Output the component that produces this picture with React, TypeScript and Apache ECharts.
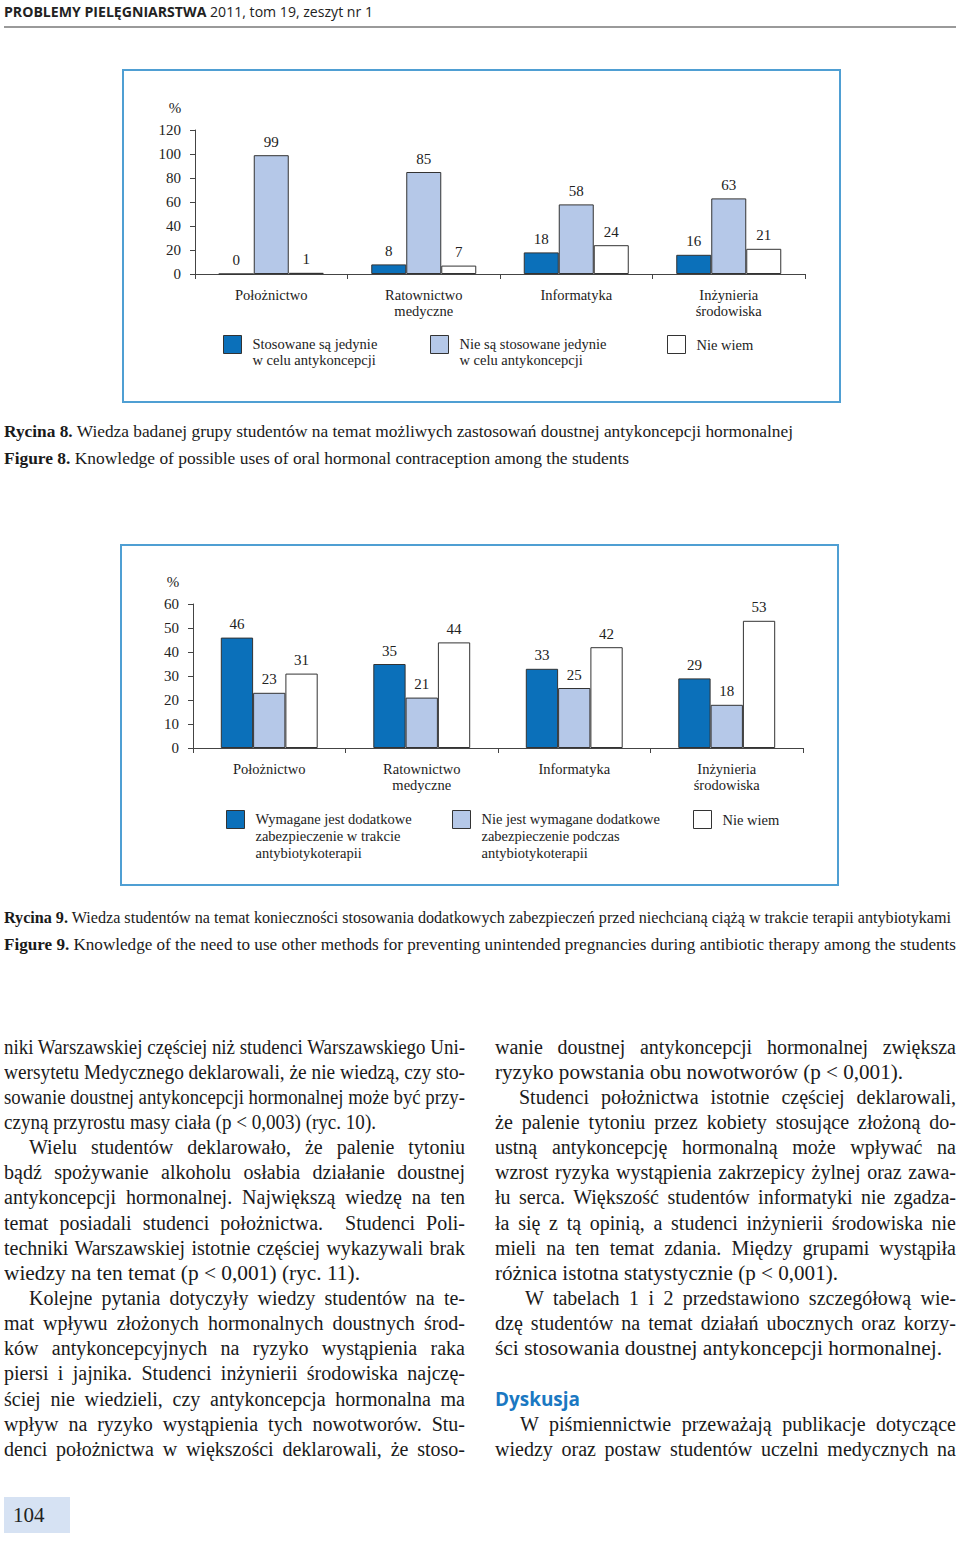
import React, { useEffect, useLayoutEffect, useRef } from 'react';
import * as echarts from 'echarts';

const SERIF = "'Liberation Serif', 'Times New Roman', serif";
const SANS = "'Open Sans', 'DejaVu Sans', sans-serif";

// ---------- data ----------
const categories = ['Położnictwo', 'Ratownictwo\nmedyczne', 'Informatyka', 'Inżynieria\nśrodowiska'];

const fig8Names = ['Stosowane są jedynie\nw celu antykoncepcji', 'Nie są stosowane jedynie\nw celu antykoncepcji', 'Nie wiem'];
const fig8Used = [0, 8, 18, 16];
const fig8NotUsed = [99, 85, 58, 63];
const fig8DontKnow = [1, 7, 24, 21];
const fig8AxisMax = 120;
const fig8AxisStep = 20;

const fig9Names = [
  'Wymagane jest dodatkowe\nzabezpieczenie w trakcie\nantybiotykoterapii',
  'Nie jest wymagane dodatkowe\nzabezpieczenie podczas\nantybiotykoterapii',
  'Nie wiem',
];
const fig9Required = [46, 35, 33, 29];
const fig9NotRequired = [23, 21, 25, 18];
const fig9DontKnow = [31, 44, 42, 53];
const fig9AxisMax = 60;
const fig9AxisStep = 10;

const seriesColors = ['#0b70ba', '#b5c8e8', '#ffffff'];

// ---------- page text ----------
type Line = [string, number, string, number?]; // text, indent, mode, target width
const leftLines: Line[] = [
  ['niki Warszawskiej częściej niż studenci Warszawskiego Uni-', 0, 'j'],
  ['wersytetu Medycznego deklarowali, że nie wiedzą, czy sto-', 0, 'j'],
  ['sowanie doustnej antykoncepcji hormonalnej może być przy-', 0, 'j'],
  ['czyną przyrostu masy ciała (p < 0,003) (ryc. 10).', 0, 's', 372],
  ['Wielu studentów deklarowało, że palenie tytoniu', 25, 'j'],
  ['bądź spożywanie alkoholu osłabia działanie doustnej', 0, 'j'],
  ['antykoncepcji hormonalnej. Największą wiedzę na ten', 0, 'j'],
  ['temat posiadali studenci położnictwa.  Studenci Poli-', 0, 'j'],
  ['techniki Warszawskiej istotnie częściej wykazywali brak', 0, 'j'],
  ['wiedzy na ten temat (p < 0,001) (ryc. 11).', 0, 's', 356],
  ['Kolejne pytania dotyczyły wiedzy studentów na te-', 25, 'j'],
  ['mat wpływu złożonych hormonalnych doustnych środ-', 0, 'j'],
  ['ków antykoncepcyjnych na ryzyko wystąpienia raka', 0, 'j'],
  ['piersi i jajnika. Studenci inżynierii środowiska najczę-', 0, 'j'],
  ['ściej nie wiedzieli, czy antykoncepcja hormonalna ma', 0, 'j'],
  ['wpływ na ryzyko wystąpienia tych nowotworów. Stu-', 0, 'j'],
  ['denci położnictwa w większości deklarowali, że stoso-', 0, 'j'],
];
const rightLines: (Line | null)[] = [
  ['wanie doustnej antykoncepcji hormonalnej zwiększa', 0, 'j'],
  ['ryzyko powstania obu nowotworów (p < 0,001).', 0, 's', 408],
  ['Studenci położnictwa istotnie częściej deklarowali,', 24, 'j'],
  ['że palenie tytoniu przez kobiety stosujące złożoną do-', 0, 'j'],
  ['ustną antykoncepcję hormonalną może wpływać na', 0, 'j'],
  ['wzrost ryzyka wystąpienia zakrzepicy żylnej oraz zawa-', 0, 'j'],
  ['łu serca. Większość studentów informatyki nie zgadza-', 0, 'j'],
  ['ła się z tą opinią, a studenci inżynierii środowiska nie', 0, 'j'],
  ['mieli na ten temat zdania. Między grupami wystąpiła', 0, 'j'],
  ['różnica istotna statystycznie (p < 0,001).', 0, 's', 343],
  ['W tabelach 1 i 2 przedstawiono szczegółową wie-', 30, 'j'],
  ['dzę studentów na temat działań ubocznych oraz korzy-', 0, 'j'],
  ['ści stosowania doustnej antykoncepcji hormonalnej.', 0, 's', 447],
  null,
  null,
  ['W piśmiennictwie przeważają publikacje dotyczące', 25, 'j'],
  ['wiedzy oraz postaw studentów uczelni medycznych na', 0, 'j'],
];

function makeOption(cfg: any) {
  const labelStyle = { color: '#222', fontFamily: SERIF, fontSize: 15 };
  const legends = cfg.names.map((n: string, i: number) => {
    const lines = n.split('\n').length;
    const lh = cfg.legendLineHeight;
    const h = lines > 1 ? lines * lh : 18;
    return {
      data: [n],
      left: cfg.legendLeft[i],
      top: cfg.legendTop,
      padding: 0,
      itemWidth: 18,
      itemHeight: h,
      icon: lines > 1 ? `path://M0,0H18V18H0ZM0,${h}` : 'rect',
      itemStyle: { borderColor: '#333', borderWidth: 1 },
      textStyle: { color: '#222', fontFamily: SERIF, fontSize: 14.5, lineHeight: lh, padding: [0, 0, 0, 6] },
      selectedMode: false,
    };
  });
  const series = cfg.values.map((v: number[], i: number) => ({
    type: 'bar',
    name: cfg.names[i],
    data: v,
    barWidth: cfg.barWidth,
    barGap: '0%',
    itemStyle: { color: seriesColors[i], borderColor: '#333', borderWidth: 1 },
    label: { show: true, position: 'top', distance: 6, ...labelStyle },
  }));
  return {
    animation: false,
    graphic: [
      {
        type: 'rect',
        silent: true,
        shape: { x: 2, y: 2, width: 717, height: cfg.boxH },
        style: { fill: 'none', stroke: '#4f9fd3', lineWidth: 2 },
      },
    ],
    grid: { left: 74, top: cfg.gridTop, width: 610, height: 144 },
    xAxis: {
      type: 'category',
      data: categories,
      axisLine: { lineStyle: { color: '#444', width: 1 } },
      axisTick: { show: true, length: 5, interval: 0, lineStyle: { color: '#444' } },
      axisLabel: { interval: 0, margin: 13, lineHeight: 16, ...labelStyle, fontSize: 14.5 },
    },
    yAxis: {
      type: 'value',
      min: 0,
      max: cfg.max,
      interval: cfg.step,
      name: '%',
      nameLocation: 'end',
      nameGap: 15,
      nameTextStyle: { ...labelStyle, padding: [0, 40, 0, 0] },
      axisLine: { show: true, lineStyle: { color: '#444', width: 1 } },
      axisTick: { show: true, length: 5, lineStyle: { color: '#444' } },
      splitLine: { show: false },
      axisLabel: { margin: 14, ...labelStyle },
    },
    legend: legends,
    series,
  };
}

function Chart({ option, left, top, width, height }: any) {
  const ref = useRef<HTMLDivElement>(null);
  useEffect(() => {
    const chart = echarts.init(ref.current!, undefined, { renderer: 'svg' });
    chart.setOption(option);
    return () => chart.dispose();
  }, []);
  return <div ref={ref} style={{ position: 'absolute', left, top, width, height }} />;
}

function TextLine({ line, x, cy, width }: any) {
  const [text, indent, mode, target] = line;
  const w = mode === 's' ? target : width - indent;
  return (
    <div style={{ position: 'absolute', left: x + indent, top: cy - 12.5, height: 25, lineHeight: '25px', whiteSpace: 'nowrap' }}>
      <span data-mode={mode} data-w={w} style={{ display: 'inline-block', whiteSpace: 'pre', transformOrigin: 'left center' }}>
        {text}
      </span>
    </div>
  );
}

export default function App() {
  const rootRef = useRef<HTMLDivElement>(null);

  useLayoutEffect(() => {
    const els = rootRef.current!.querySelectorAll('[data-mode]');
    els.forEach((node) => {
      const el = node as HTMLElement;
      const mode = el.dataset.mode;
      const target = parseFloat(el.dataset.w || '0');
      el.style.wordSpacing = '';
      el.style.transform = '';
      const w = el.getBoundingClientRect().width;
      if (mode === 'j' && w < target) {
        const spaces = (el.textContent || '').split(' ').length - 1;
        if (spaces > 0) el.style.wordSpacing = `${(target - w) / spaces}px`;
      } else if (mode === 's' || w > target) {
        el.style.transform = `scaleX(${target / w})`;
      }
    });
  }, []);

  const opt8 = makeOption({
    names: fig8Names,
    values: [fig8Used, fig8NotUsed, fig8DontKnow],
    max: fig8AxisMax,
    step: fig8AxisStep,
    gridTop: 62,
    boxH: 332,
    barWidth: 35,
    legendLeft: [102, 309, 546],
    legendTop: 267,
    legendLineHeight: 16,
  });
  const opt9 = makeOption({
    names: fig9Names,
    values: [fig9Required, fig9NotRequired, fig9DontKnow],
    max: fig9AxisMax,
    step: fig9AxisStep,
    gridTop: 61,
    boxH: 340,
    barWidth: 32.3,
    legendLeft: [107, 333, 574],
    legendTop: 267,
    legendLineHeight: 17,
  });

  const bodyStyle: any = { fontFamily: SERIF, fontSize: 20, color: '#1a1a1a' };
  const capStyle: any = { position: 'absolute', left: 4, fontFamily: SERIF, fontSize: 16, color: '#1a1a1a', whiteSpace: 'nowrap', lineHeight: '20px' };
  const lineY = (i: number) => 1047 + i * 25.15;

  return (
    <div ref={rootRef} style={{ position: 'absolute', left: 0, top: 0, width: 960, height: 1541, background: '#fff', overflow: 'hidden' }}>
      {/* header */}
      <div style={{ position: 'absolute', left: 4, top: 1, lineHeight: '20px', whiteSpace: 'nowrap', fontFamily: SANS, fontSize: 15, color: '#222' }}>
        <span data-mode="s" data-w="369" style={{ display: 'inline-block', whiteSpace: 'pre', transformOrigin: 'left center' }}>
          <b>PROBLEMY PIELĘGNIARSTWA</b> 2011, tom 19, zeszyt nr 1
        </span>
      </div>
      <div style={{ position: 'absolute', left: 4, top: 26, width: 952, height: 2, background: '#9a9a9a' }} />

      <Chart option={opt8} left={121} top={68} width={721} height={336} />

      <div style={{ ...capStyle, top: 422 }}>
        <span data-mode="s" data-w="789" style={{ display: 'inline-block', whiteSpace: 'pre', transformOrigin: 'left center' }}>
          <b>Rycina 8.</b> Wiedza badanej grupy studentów na temat możliwych zastosowań doustnej antykoncepcji hormonalnej
        </span>
      </div>
      <div style={{ ...capStyle, top: 449 }}>
        <span data-mode="s" data-w="625" style={{ display: 'inline-block', whiteSpace: 'pre', transformOrigin: 'left center' }}>
          <b>Figure 8.</b> Knowledge of possible uses of oral hormonal contraception among the students
        </span>
      </div>

      <Chart option={opt9} left={119} top={543} width={721} height={344} />

      <div style={{ ...capStyle, top: 908 }}>
        <span data-mode="s" data-w="947" style={{ display: 'inline-block', whiteSpace: 'pre', transformOrigin: 'left center' }}>
          <b>Rycina 9.</b> Wiedza studentów na temat konieczności stosowania dodatkowych zabezpieczeń przed niechcianą ciążą w trakcie terapii antybiotykami
        </span>
      </div>
      <div style={{ ...capStyle, top: 935 }}>
        <span data-mode="s" data-w="952" style={{ display: 'inline-block', whiteSpace: 'pre', transformOrigin: 'left center' }}>
          <b>Figure 9.</b> Knowledge of the need to use other methods for preventing unintended pregnancies during antibiotic therapy among the students
        </span>
      </div>

      {/* body text */}
      <div style={bodyStyle}>
        {leftLines.map((l, i) => (
          <TextLine key={'l' + i} line={l} x={4} cy={lineY(i)} width={461} />
        ))}
        {rightLines.map((l, i) =>
          l ? <TextLine key={'r' + i} line={l} x={495} cy={lineY(i)} width={461} /> : null
        )}
      </div>
      <div style={{ position: 'absolute', left: 495, top: lineY(14) - 12.5, lineHeight: '25px', fontFamily: SANS, fontWeight: 700, fontSize: 19, color: '#1a78c2', whiteSpace: 'nowrap' }}>
        <span data-mode="s" data-w="85" style={{ display: 'inline-block', transformOrigin: 'left center' }}>Dyskusja</span>
      </div>

      {/* page number */}
      <div style={{ position: 'absolute', left: 4, top: 1497, width: 66, height: 36, background: '#d6e2f3' }} />
      <div style={{ position: 'absolute', left: 13, top: 1503, lineHeight: '24px', fontFamily: SERIF, fontSize: 21, color: '#222' }}>104</div>
    </div>
  );
}
